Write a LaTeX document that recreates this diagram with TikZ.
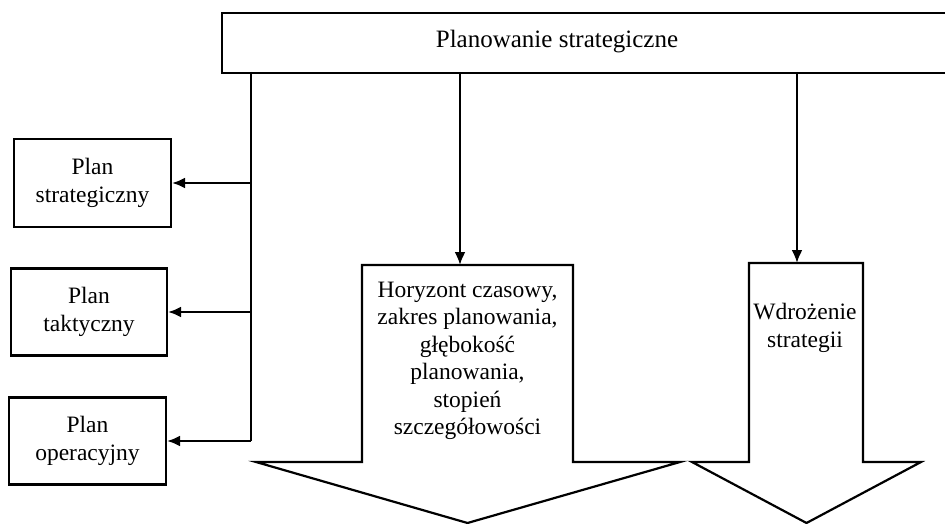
\documentclass[tikz,border=0pt]{standalone}
\usepackage{fontspec}
\setmainfont{Liberation Serif}
\usetikzlibrary{arrows.meta}
\begin{document}
\begin{tikzpicture}[x=1pt,y=-1pt,line width=2.2pt,
  every node/.style={font=\fontsize{23.5}{27.5}\selectfont},
  box/.style={draw,align=center,inner sep=0pt},
  lbl/.style={align=center,inner sep=0pt},
  arr/.style={-{Latex[length=13pt,width=11pt]}},
  blk/.style={draw,line join=miter}]
\clip (0,0) rectangle (945,524);
% top box
\node[box,anchor=north west,minimum width=732pt,minimum height=60pt] (top) at (221,12) {};
\node[lbl,font=\fontsize{25}{29}\selectfont] (toptext) at (557,42) {Planowanie strategiczne};
% left boxes
\node[box,minimum width=157pt,minimum height=88pt] (ps) at (92.5,183) {Plan\\strategiczny};
\node[box,minimum width=156pt,minimum height=87pt] (pt) at (89,312) {Plan\\taktyczny};
\node[box,minimum width=157pt,minimum height=87pt] (po) at (87.5,441) {Plan\\operacyjny};
% spine
\coordinate (sp) at (251,72);
\coordinate (spb) at (251,441);
\draw (sp) -- (spb);
\draw[arr] (ps.east -| sp) -- (ps.east);
\draw[arr] (pt.east -| sp) -- (pt.east);
\draw[arr] (po.east -| sp) -- (po.east);
% middle block arrow
\coordinate (m1) at (362,265);
\coordinate (m2) at (573,265);
\coordinate (mtip) at (467.5,523);
\draw[blk] (m1) -- (m2) -- (573,462) -- (680,462) -- (mtip) -- (256,462) -- (362,462) -- cycle;
\node[lbl] (mtext) at (467.5,361) {Horyzont czasowy,\\zakres planowania,\\głębokość\\planowania,\\stopień\\szczegółowości};
\coordinate (ma) at (460,72);
\coordinate (mb) at (460,265);
\draw[arr] (ma) -- (mb);
% right block arrow
\coordinate (r1) at (749,263);
\coordinate (r2) at (863,263);
\coordinate (rtip) at (806.5,523);
\draw[blk] (r1) -- (r2) -- (863,462) -- (921,462) -- (rtip) -- (692,462) -- (749,462) -- cycle;
\node[lbl] (rtext) at (805,328) {Wdrożenie\\strategii};
\coordinate (ra) at (797,72);
\coordinate (rb) at (797,263);
\draw[arr] (ra) -- (rb);
\end{tikzpicture}
\end{document}
